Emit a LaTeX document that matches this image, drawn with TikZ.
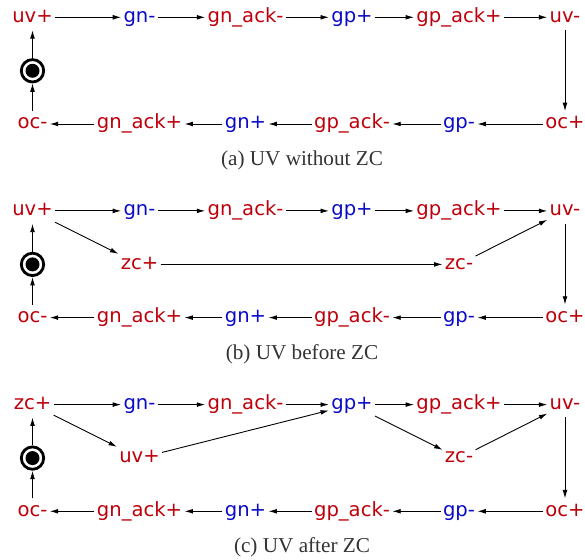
\documentclass[tikz,border=0pt]{standalone}
\usepackage{fontspec}
\setmainfont{Liberation Serif}
\newfontfamily\lblfont{DejaVu Sans}
\usetikzlibrary{arrows.meta}

\definecolor{sigred}{RGB}{190,0,10}
\definecolor{sigblue}{RGB}{10,10,200}

\tikzset{
  sig/.style={inner xsep=1pt, inner ysep=1.5pt, text height=7.2pt, text depth=2.3pt,
    font=\lblfont\fontsize{9.8}{11}\selectfont},
  rsig/.style={sig, text=sigred},
  bsig/.style={sig, text=sigblue},
  tr/.style={-{Latex[length=4.2pt,width=2.4pt]}, line width=0.45pt},
  init/.style={circle, draw, line width=1.4pt, minimum size=11.2pt, inner sep=0pt},
  capt/.style={text=black!80, font=\fontsize{10.6}{12}\selectfont}
}

\begin{document}
\begin{tikzpicture}[x=0.5pt, y=-0.5pt]
  \useasboundingbox (0,0) rectangle (585,560);

  % (a) no zc
  \begin{scope}[shift={(0,17.3)}]
    \node[rsig] (a-uvp) at (32.5,0) {uv+};
    \node[bsig] (a-gnm) at (139.5,0) {gn-};
    \node[rsig] (a-gnackm) at (245.5,0) {gn\_ack-};
    \node[bsig] (a-gpp) at (352,0) {gp+};
    \node[rsig] (a-gpackp) at (459,0) {gp\_ack+};
    \node[rsig] (a-uvm) at (565,0) {uv-};
    \node[init] (a-init) at (32.5,53.5) {};
    \fill (a-init) circle (3.5pt);
    \node[rsig] (a-ocm) at (32.5,106.7) {oc-};
    \node[rsig] (a-gnackp) at (139.5,106.7) {gn\_ack+};
    \node[bsig] (a-gnp) at (245.5,106.7) {gn+};
    \node[rsig] (a-gpackm) at (352,106.7) {gp\_ack-};
    \node[bsig] (a-gpm) at (459,106.7) {gp-};
    \node[rsig] (a-ocp) at (565,106.7) {oc+};
    \node[capt] (a-cap) at (302,143) {(a) UV without ZC};

    \draw[tr] (a-uvp) -- (a-gnm);
    \draw[tr] (a-gnm) -- (a-gnackm);
    \draw[tr] (a-gnackm) -- (a-gpp);
    \draw[tr] (a-gpp) -- (a-gpackp);
    \draw[tr] (a-gpackp) -- (a-uvm);
    \draw[tr] (a-uvm) -- (a-ocp);
    \draw[tr] (a-ocp) -- (a-gpm);
    \draw[tr] (a-gpm) -- (a-gpackm);
    \draw[tr] (a-gpackm) -- (a-gnp);
    \draw[tr] (a-gnp) -- (a-gnackp);
    \draw[tr] (a-gnackp) -- (a-ocm);
    \draw[tr] (a-ocm) -- (a-init);
    \draw[tr] (a-init) -- (a-uvp);
  \end{scope}

  % (b) uv before zc
  \begin{scope}[shift={(0,210.9)}]
    \node[rsig] (b-uvp) at (32.5,0) {uv+};
    \node[bsig] (b-gnm) at (139.5,0) {gn-};
    \node[rsig] (b-gnackm) at (245.5,0) {gn\_ack-};
    \node[bsig] (b-gpp) at (352,0) {gp+};
    \node[rsig] (b-gpackp) at (459,0) {gp\_ack+};
    \node[rsig] (b-uvm) at (565,0) {uv-};
    \node[init] (b-init) at (32.5,53.5) {};
    \fill (b-init) circle (3.5pt);
    \node[rsig] (b-zcp) at (139.5,53.5) {zc+};
    \node[rsig] (b-zcm) at (459,53.5) {zc-};
    \node[rsig] (b-ocm) at (32.5,106.7) {oc-};
    \node[rsig] (b-gnackp) at (139.5,106.7) {gn\_ack+};
    \node[bsig] (b-gnp) at (245.5,106.7) {gn+};
    \node[rsig] (b-gpackm) at (352,106.7) {gp\_ack-};
    \node[bsig] (b-gpm) at (459,106.7) {gp-};
    \node[rsig] (b-ocp) at (565,106.7) {oc+};
    \node[capt] (b-cap) at (302,143) {(b) UV before ZC};

    \draw[tr] (b-uvp) -- (b-gnm);
    \draw[tr] (b-gnm) -- (b-gnackm);
    \draw[tr] (b-gnackm) -- (b-gpp);
    \draw[tr] (b-gpp) -- (b-gpackp);
    \draw[tr] (b-gpackp) -- (b-uvm);
    \draw[tr] (b-uvp) -- (b-zcp);
    \draw[tr] (b-zcp) -- (b-zcm);
    \draw[tr] (b-zcm) -- (b-uvm);
    \draw[tr] (b-uvm) -- (b-ocp);
    \draw[tr] (b-ocp) -- (b-gpm);
    \draw[tr] (b-gpm) -- (b-gpackm);
    \draw[tr] (b-gpackm) -- (b-gnp);
    \draw[tr] (b-gnp) -- (b-gnackp);
    \draw[tr] (b-gnackp) -- (b-ocm);
    \draw[tr] (b-ocm) -- (b-init);
    \draw[tr] (b-init) -- (b-uvp);
  \end{scope}

  % (c) uv after zc
  \begin{scope}[shift={(0,404.6)}]
    \node[rsig] (c-zcp) at (32.5,0) {zc+};
    \node[bsig] (c-gnm) at (139.5,0) {gn-};
    \node[rsig] (c-gnackm) at (245.5,0) {gn\_ack-};
    \node[bsig] (c-gpp) at (352,0) {gp+};
    \node[rsig] (c-gpackp) at (459,0) {gp\_ack+};
    \node[rsig] (c-uvm) at (565,0) {uv-};
    \node[init] (c-init) at (32.5,53.5) {};
    \fill (c-init) circle (3.5pt);
    \node[rsig] (c-uvp) at (139.5,53.5) {uv+};
    \node[rsig] (c-zcm) at (459,53.5) {zc-};
    \node[rsig] (c-ocm) at (32.5,106.7) {oc-};
    \node[rsig] (c-gnackp) at (139.5,106.7) {gn\_ack+};
    \node[bsig] (c-gnp) at (245.5,106.7) {gn+};
    \node[rsig] (c-gpackm) at (352,106.7) {gp\_ack-};
    \node[bsig] (c-gpm) at (459,106.7) {gp-};
    \node[rsig] (c-ocp) at (565,106.7) {oc+};
    \node[capt] (c-cap) at (302,143) {(c) UV after ZC};

    \draw[tr] (c-zcp) -- (c-gnm);
    \draw[tr] (c-gnm) -- (c-gnackm);
    \draw[tr] (c-gnackm) -- (c-gpp);
    \draw[tr] (c-zcp) -- (c-uvp);
    \draw[tr] (c-uvp) -- (c-gpp);
    \draw[tr] (c-gpp) -- (c-gpackp);
    \draw[tr] (c-gpp) -- (c-zcm);
    \draw[tr] (c-gpackp) -- (c-uvm);
    \draw[tr] (c-zcm) -- (c-uvm);
    \draw[tr] (c-uvm) -- (c-ocp);
    \draw[tr] (c-ocp) -- (c-gpm);
    \draw[tr] (c-gpm) -- (c-gpackm);
    \draw[tr] (c-gpackm) -- (c-gnp);
    \draw[tr] (c-gnp) -- (c-gnackp);
    \draw[tr] (c-gnackp) -- (c-ocm);
    \draw[tr] (c-ocm) -- (c-init);
    \draw[tr] (c-init) -- (c-zcp);
  \end{scope}
\end{tikzpicture}
\end{document}
